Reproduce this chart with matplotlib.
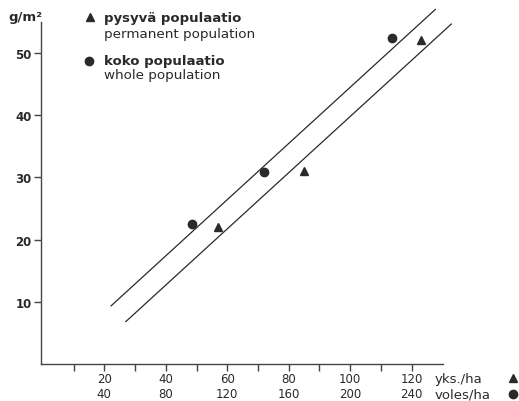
import matplotlib
matplotlib.use('Agg')
import matplotlib.pyplot as plt
import matplotlib.transforms as mtransforms
import numpy as np

# permanent population: density (yks./ha) vs biomass g/m2
perm_density = [57, 85, 123]
perm_biomass = [22.0, 31.1, 52.1]
# whole population: density (voles/ha) vs biomass g/m2
whole_density = [97, 144, 227]
whole_biomass = [22.5, 30.9, 52.4]

# fitted lines, on the yks./ha scale
whole_slope, whole_icept, whole_x = 0.452, -0.7, (22.2, 127.7)
perm_slope, perm_icept, perm_x = 0.452, -5.4, (27.0, 132.9)

x_ticks = list(range(10, 121, 10))
label_pos = [20, 40, 60, 80, 100, 120]
top_labels = ['20', '40', '60', '80', '100', '120']
bottom_labels = ['40', '80', '120', '160', '200', '240']
y_ticks = [10, 20, 30, 40, 50]

ink = '#2a2a2a'
plt.rcParams['font.family'] = ['DejaVu Sans']

fig = plt.figure(figsize=(5.19, 4.02), dpi=100)
W, H = 519.0, 402.0
ax = fig.add_axes([41.3 / W, 37.1 / H, (442.7 - 41.3) / W, (379 - 37.1) / H])
ax.set_xlim(-0.5, 130.1)
ax.set_ylim(0, 55)

for sl, ic, (x0, x1) in [(whole_slope, whole_icept, whole_x), (perm_slope, perm_icept, perm_x)]:
    xs = np.array([x0, x1])
    ax.plot(xs, sl * xs + ic, color=ink, lw=0.9, clip_on=False)

ax.plot(perm_density, perm_biomass, '^', color=ink, ms=6, clip_on=False)
ax.plot(np.array(whole_density) / 2, whole_biomass, 'o', color=ink, ms=6, clip_on=False)

for s in ['top', 'right']:
    ax.spines[s].set_visible(False)
for s in ['left', 'bottom']:
    ax.spines[s].set_color('#444444')
    ax.spines[s].set_linewidth(1.0)

ax.set_xticks(x_ticks)
ax.set_xticklabels([''] * len(x_ticks))
ax.set_yticks(y_ticks)
ax.set_yticklabels([str(v) for v in y_ticks], fontsize=8.5, fontweight='bold', color=ink)
ax.tick_params(axis='both', direction='out', length=5, width=1, color='#444444')
ax.tick_params(axis='y', pad=2)

# two rows of x labels: yks./ha and voles/ha
tr = mtransforms.blended_transform_factory(ax.transData, fig.transFigure)
for p, a, b in zip(label_pos, top_labels, bottom_labels):
    ax.text(p, 1 - 379.3 / H, a, transform=tr, fontsize=8.5, color=ink, ha='center', va='center')
    ax.text(p, 1 - 395 / H, b, transform=tr, fontsize=8.5, color=ink, ha='center', va='center')

# unit labels
fig.text(8 / W, 1 - 17 / H, 'g/m²', fontsize=9.5, fontweight='bold', color=ink, va='center')
fig.text(435 / W, 1 - 379.3 / H, 'yks./ha', fontsize=9.5, color=ink, va='center')
fig.text(435 / W, 1 - 395 / H, 'voles/ha', fontsize=9.5, color=ink, va='center')
fig.lines.append(plt.Line2D([513 / W], [1 - 379.3 / H], marker='^', ms=6, color=ink, transform=fig.transFigure))
fig.lines.append(plt.Line2D([513 / W], [1 - 395 / H], marker='o', ms=6, color=ink, transform=fig.transFigure))

# legend
fig.lines.append(plt.Line2D([90.3 / W], [1 - 18.3 / H], marker='^', ms=6, color=ink, transform=fig.transFigure))
fig.lines.append(plt.Line2D([89 / W], [1 - 61.7 / H], marker='o', ms=6, color=ink, transform=fig.transFigure))
fig.text(104 / W, 1 - 18.3 / H, 'pysyvä populaatio', fontsize=9.5, fontweight='bold', color=ink, va='center')
fig.text(104 / W, 1 - 34.3 / H, 'permanent population', fontsize=9.7, color=ink, va='center')
fig.text(104 / W, 1 - 61.7 / H, 'koko populaatio', fontsize=9.5, fontweight='bold', color=ink, va='center')
fig.text(104 / W, 1 - 76 / H, 'whole population', fontsize=9.7, color=ink, va='center')

plt.savefig('out.png', dpi=100)
